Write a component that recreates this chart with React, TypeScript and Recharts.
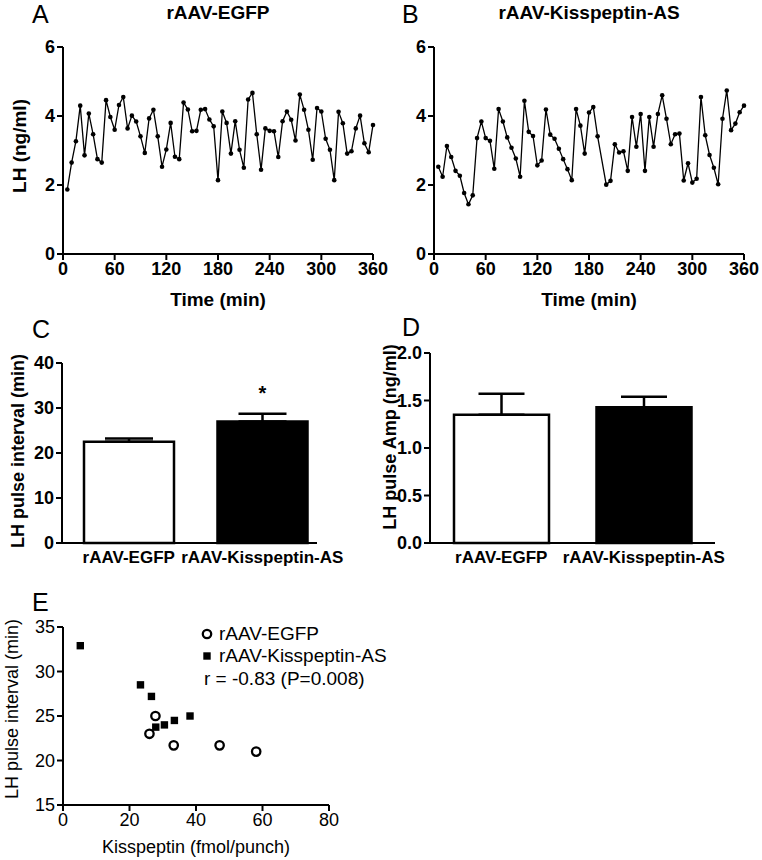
import React from "react";
import {
  LineChart,
  Line,
  BarChart,
  Bar,
  Cell,
  ErrorBar,
  LabelList,
  ScatterChart,
  Scatter,
  XAxis,
  YAxis,
  Legend,
} from "recharts";

// panel A / B: LH sampled every 5 min
const sampleTimes = [
  5, 10, 15, 20, 25, 30, 35, 40, 45, 50, 55, 60, 65, 70, 75, 80, 85, 90, 95, 100,
  105, 110, 115, 120, 125, 130, 135, 140, 145, 150, 155, 160, 165, 170, 175, 180,
  185, 190, 195, 200, 205, 210, 215, 220, 225, 230, 235, 240, 245, 250, 255, 260,
  265, 270, 275, 280, 285, 290, 295, 300, 305, 310, 315, 320, 325, 330, 335, 340,
  345, 350, 355, 360,
];
const lhEgfp = [
  1.87, 2.65, 3.27, 4.3, 2.86, 4.07, 3.47, 2.75, 2.65, 4.46, 3.97, 3.6, 4.32, 4.55,
  3.64, 4.01, 3.84, 3.41, 2.93, 3.93, 4.18, 3.41, 2.53, 3.03, 3.8, 2.82, 2.75, 4.39,
  4.19, 3.56, 3.57, 4.18, 4.2, 3.9, 3.7, 2.14, 4.13, 3.8, 2.91, 3.85, 3.02, 2.5,
  4.48, 4.67, 3.47, 2.44, 3.64, 3.57, 3.56, 2.81, 3.85, 4.13, 3.89, 3.29, 4.62,
  4.18, 3.6, 2.73, 4.23, 4.13, 3.34, 3.02, 2.14, 4.12, 3.79, 2.91, 2.98, 3.64, 4.01,
  3.21, 2.95, 3.74,
];
// the 195 min sample is missing in the antisense animal
const sampleTimesAs = [
  5, 10, 15, 20, 25, 30, 35, 40, 45, 50, 55, 60, 65, 70, 75, 80, 85, 90, 95, 100,
  105, 110, 115, 120, 125, 130, 135, 140, 145, 150, 155, 160, 165, 170, 175, 180,
  185, 190, 200, 205, 210, 215, 220, 225, 230, 235, 240, 245, 250, 255, 260, 265,
  270, 275, 280, 285, 290, 295, 300, 305, 310, 315, 320, 325, 330, 335, 340, 345,
  350, 355, 360,
];
const lhKisspeptinAs = [
  2.53, 2.24, 3.13, 2.81, 2.41, 2.27, 1.77, 1.44, 1.7, 3.36, 3.84, 3.36, 3.28, 2.47,
  4.2, 3.84, 3.38, 3.08, 2.77, 2.24, 4.44, 3.54, 3.42, 2.57, 2.71, 4.19, 3.46, 3.34,
  3.05, 2.75, 2.46, 2.14, 4.2, 3.72, 2.91, 4.1, 4.26, 3.41, 2.01, 2.12, 3.18, 2.94,
  2.98, 2.41, 3.97, 3.11, 4.06, 2.41, 3.97, 3.11, 4.06, 4.6, 3.92, 3.18, 3.47, 3.49,
  2.13, 2.63, 2.07, 2.18, 4.55, 3.44, 2.87, 2.5, 2.02, 3.92, 4.74, 3.59, 3.78, 4.11,
  4.3,
];
const timeTicks = [0, 60, 120, 180, 240, 300, 360];
const lhTicks = [0, 2, 4, 6];

// panel C / D
const groups = ["rAAV-EGFP", "rAAV-Kisspeptin-AS"];
const barFills = ["#ffffff", "#000000"];
const pulseInterval = [22.5, 27.0];
const pulseIntervalSem = [0.7, 1.7];
const intervalMarks = ["", "*"];
const intervalTicks = [0, 10, 20, 30, 40];
const pulseAmp = [1.35, 1.43];
const pulseAmpSem = [0.22, 0.11];
const ampTicks = [0, 0.5, 1, 1.5, 2];

// panel E
const egfpKisspeptin = [26.0, 27.8, 33.3, 47.1, 58.1];
const egfpInterval = [23.0, 25.0, 21.7, 21.7, 21.0];
const asKisspeptin = [5.2, 23.3, 26.6, 27.9, 30.5, 33.5, 38.2];
const asInterval = [32.9, 28.5, 27.2, 23.75, 24.0, 24.5, 25.0];
const kissTicks = [0, 20, 40, 60, 80];
const scatterIntervalTicks = [15, 20, 25, 30, 35];
const correlationText = "r = -0.83 (P=0.008)";

const FONT = '"Liberation Sans", Arial, Helvetica, sans-serif';
const axisLine = { stroke: "#000", strokeWidth: 2 };
const boldTick = { fill: "#000", fontSize: 18, fontWeight: 700 };
const plainTick = { fill: "#000", fontSize: 18 };

const egfpTrace = sampleTimes.map((t, i) => ({ t, lh: lhEgfp[i] }));
const asTrace = sampleTimesAs.map((t, i) => ({ t, lh: lhKisspeptinAs[i] }));
const intervalData = groups.map((g, i) => ({
  group: g,
  value: pulseInterval[i],
  err: [0, pulseIntervalSem[i]],
  mark: intervalMarks[i],
}));
const ampData = groups.map((g, i) => ({
  group: g,
  value: pulseAmp[i],
  err: [0, pulseAmpSem[i]],
}));
const egfpPoints = egfpKisspeptin.map((k, i) => ({ k, interval: egfpInterval[i] }));
const asPoints = asKisspeptin.map((k, i) => ({ k, interval: asInterval[i] }));

// panel letters and titles as plain svg text over the charts
const Overlay = () => (
  <svg
    width={762}
    height={860}
    style={{ position: "absolute", left: 0, top: 0, pointerEvents: "none" }}
  >
    <g fontSize={25} fill="#000">
      <text x={32} y={23}>A</text>
      <text x={402} y={23}>B</text>
      <text x={32} y={338}>C</text>
      <text x={402} y={336}>D</text>
      <text x={32} y={611}>E</text>
    </g>
    <g fontSize={19} fontWeight={700} fill="#000" textAnchor="middle">
      <text x={218} y={19}>rAAV-EGFP</text>
      <text x={589} y={19}>rAAV-Kisspeptin-AS</text>
    </g>
  </svg>
);

// rotated y-axis title drawn inside the chart svg
const yTitle = (text: string, x: number, y: number, bold = true, size = 18) => ({
  content: () => (
    <text
      x={x}
      y={y}
      transform={`rotate(-90 ${x} ${y})`}
      textAnchor="middle"
      dominantBaseline="central"
      fontSize={size}
      fontWeight={bold ? 700 : 400}
      fill="#000"
    >
      {text}
    </text>
  ),
});

const timeLabel = {
  value: "Time (min)",
  position: "insideBottom" as const,
  offset: 6,
  fill: "#000",
  fontSize: 19,
  fontWeight: 700,
};

const Trace = ({ data, left, width, right, yWidth, ylabel }: any) => (
  <div style={{ position: "absolute", left, top: 0 }}>
    <LineChart
      width={width}
      height={312}
      data={data}
      margin={{ top: 47, right, bottom: 0, left: 0 }}
    >
      <XAxis
        dataKey="t"
        type="number"
        domain={[0, 360]}
        ticks={timeTicks}
        height={58}
        axisLine={axisLine}
        tickLine={axisLine}
        tickSize={6}
        tick={boldTick}
        label={timeLabel}
      />
      <YAxis
        type="number"
        domain={[0, 6]}
        ticks={lhTicks}
        width={yWidth}
        axisLine={axisLine}
        tickLine={axisLine}
        tickSize={6}
        tick={boldTick}
        label={ylabel}
      />
      <Line
        dataKey="lh"
        stroke="#000"
        strokeWidth={1.3}
        dot={{ r: 2.3, fill: "#000", stroke: "#000", strokeWidth: 0 }}
        activeDot={false}
        isAnimationActive={false}
      />
    </LineChart>
  </div>
);

const Bars = ({ data, left, top, height, right, yWidth, barSize, domain, ticks, fmt, ylabel, dash, capHalf, mark }: any) => (
  <div style={{ position: "absolute", left, top }}>
    <BarChart
      width={382}
      height={height}
      data={data}
      margin={{ top: 33, right, bottom: 7, left: 0 }}
      barSize={barSize}
    >
      <XAxis
        dataKey="group"
        height={30}
        interval={0}
        tickLine={false}
        tickSize={6}
        axisLine={{ ...axisLine, strokeDasharray: dash }}
        tick={{ ...boldTick, fontSize: 17 }}
      />
      <YAxis
        type="number"
        domain={domain}
        ticks={ticks}
        width={yWidth}
        axisLine={axisLine}
        tickLine={axisLine}
        tickSize={6}
        tick={boldTick}
        tickFormatter={fmt}
        label={ylabel}
      />
      <Bar dataKey="value" stroke="#000" strokeWidth={2.5} isAnimationActive={false}>
        {data.map((_: any, i: number) => (
          <Cell key={i} fill={barFills[i]} />
        ))}
        <ErrorBar dataKey="err" direction="y" width={capHalf} stroke="#000" strokeWidth={2.5} />
        {mark && (
          <LabelList dataKey="mark" position="top" offset={22} fill="#000" fontSize={20} fontWeight={700} />
        )}
      </Bar>
    </BarChart>
  </div>
);

const OpenCircle = (p: any) => (
  <circle cx={p.cx} cy={p.cy} r={4.2} fill="#fff" stroke="#000" strokeWidth={2.3} />
);
const FilledSquare = (p: any) => (
  <rect x={p.cx - 3.7} y={p.cy - 3.7} width={7.4} height={7.4} fill="#000" />
);

const ScatterLegend = (props: any) => {
  const items = props.payload || [];
  return (
    <div style={{ fontSize: 19, lineHeight: "22px", color: "#000" }}>
      {items.map((it: any, i: number) => (
        <div key={i} style={{ display: "flex", alignItems: "center", height: 22 }}>
          <svg width={18} height={22}>
            {i === 0 ? (
              <circle cx={9} cy={11} r={4.2} fill="#fff" stroke="#000" strokeWidth={2.3} />
            ) : (
              <rect x={5.3} y={7.3} width={7.4} height={7.4} fill="#000" />
            )}
          </svg>
          <span style={{ marginLeft: 3 }}>{it.value}</span>
        </div>
      ))}
      <div style={{ height: 24, marginLeft: 6, display: "flex", alignItems: "center" }}>
        {correlationText}
      </div>
    </div>
  );
};

export default function App() {
  return (
    <div
      style={{
        position: "absolute",
        left: 0,
        top: 0,
        width: 762,
        height: 860,
        background: "#fff",
        fontFamily: FONT,
        color: "#000",
      }}
    >
      <Trace
        data={egfpTrace}
        left={0}
        width={400}
        right={27}
        yWidth={63}
        ylabel={yTitle("LH (ng/ml)", 19, 146, true, 19)}
      />
      <Trace data={asTrace} left={380} width={382} right={18} yWidth={54} />

      <Bars
        data={intervalData}
        left={0}
        top={330}
        height={250}
        right={53}
        yWidth={62}
        barSize={90}
        domain={[0, 40]}
        ticks={intervalTicks}
        ylabel={yTitle("LH pulse interval (min)", 18, 121)}
        dash="255 100"
        capHalf={24}
        mark
      />
      <Bars
        data={ampData}
        left={380}
        top={320}
        height={260}
        right={47}
        yWidth={50}
        barSize={95}
        domain={[0, 2]}
        ticks={ampTicks}
        fmt={(v: number) => v.toFixed(1)}
        ylabel={yTitle("LH pulse Amp (ng/ml)", 10, 117)}
        capHalf={23}
      />

      <div style={{ position: "absolute", left: 0, top: 580 }}>
        <ScatterChart width={430} height={280} margin={{ top: 47, right: 101, bottom: 5, left: 0 }}>
          <XAxis
            dataKey="k"
            type="number"
            domain={[0, 80]}
            ticks={kissTicks}
            height={50}
            axisLine={axisLine}
            tickLine={axisLine}
            tickSize={6}
            tick={plainTick}
            label={{
              value: "Kisspeptin (fmol/punch)",
              position: "insideBottom",
              offset: 2,
              fill: "#000",
              fontSize: 18,
            }}
          />
          <YAxis
            dataKey="interval"
            type="number"
            domain={[15, 35]}
            ticks={scatterIntervalTicks}
            width={63}
            axisLine={axisLine}
            tickLine={axisLine}
            tickSize={6}
            tick={plainTick}
            label={yTitle("LH pulse interval (min)", 12, 129, false)}
          />
          <Legend
            layout="vertical"
            align="center"
            verticalAlign="middle"
            wrapperStyle={{ left: 198, top: 43, width: 232 }}
            content={ScatterLegend}
          />
          <Scatter name="rAAV-EGFP" data={egfpPoints} shape={OpenCircle} isAnimationActive={false} />
          <Scatter name="rAAV-Kisspeptin-AS" data={asPoints} shape={FilledSquare} isAnimationActive={false} />
        </ScatterChart>
      </div>

      <Overlay />
    </div>
  );
}
